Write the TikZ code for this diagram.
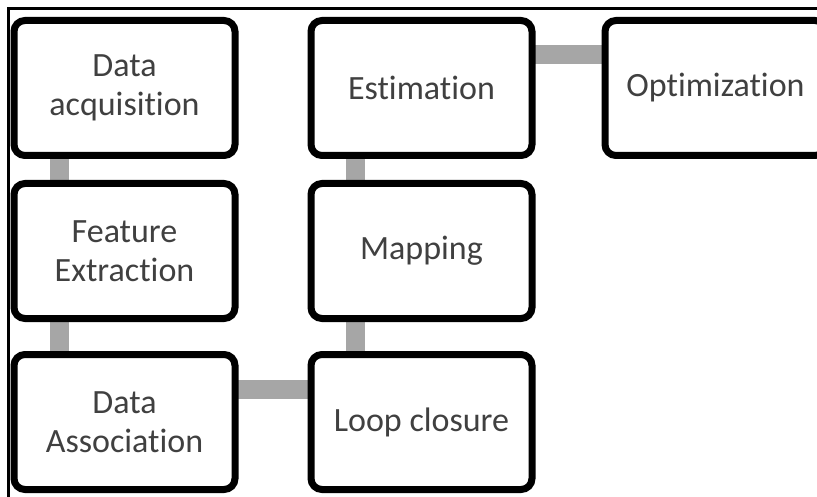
\documentclass[tikz,border=0pt]{standalone}
\usepackage{fontspec}
\setmainfont{Carlito}[Ligatures=NoCommon]
\usetikzlibrary{positioning, backgrounds}
\definecolor{Ink}{HTML}{404040}
\definecolor{Link}{HTML}{A6A6A6}
\tikzset{
    stagebox/.style={rectangle, rounded corners=11pt, draw=black, line width=7pt, fill=white, text=Ink, align=center, minimum width=221pt, minimum height=135pt, inner sep=0pt, outer sep=0pt, font=\fontsize{34}{39}\selectfont},
    link/.style={draw=Link, line width=19pt},
    frame/.style={draw=black, line width=2.5pt},
}
\begin{document}
\begin{tikzpicture}[x=1pt, y=1pt]
        \useasboundingbox (0,0) rectangle (817,-497);
        \clip (0,0) rectangle (817,-497);
        \draw[frame] (8.7,-497) |- (817,-8.7);

        \node[stagebox] (acq) at (124.5,-88) {Data\\acquisition};
        \node[stagebox, below=28pt of acq] (feat) {Feature\\Extraction};
        \node[stagebox, below=36pt of feat] (assoc) {Data\\Association};
        \node[stagebox, right=76pt of acq] (est) {Estimation};
        \node[stagebox, right=76pt of feat] (map) {Mapping};
        \node[stagebox, right=76pt of assoc] (loop) {Loop closure};
        \node[stagebox, right=73pt of est] (opt) {Optimization};

        \begin{scope}[on background layer]
            \draw[link] ([xshift=45.5pt]acq.south west) -- ([xshift=45.5pt]feat.north west);
            \draw[link] ([xshift=45.5pt]feat.south west) -- ([xshift=45.5pt]assoc.north west);
            \draw[link] ([yshift=-34.5pt]assoc.north east) -- ([yshift=-34.5pt]loop.north west);
            \draw[link] ([xshift=44.5pt]loop.north west) -- ([xshift=44.5pt]map.south west);
            \draw[link] ([xshift=44.5pt]map.north west) -- ([xshift=44.5pt]est.south west);
            \draw[link] ([yshift=-34.5pt]est.north east) -- ([yshift=-34.5pt]opt.north west);
        \end{scope}
    \end{tikzpicture}
\end{document}
